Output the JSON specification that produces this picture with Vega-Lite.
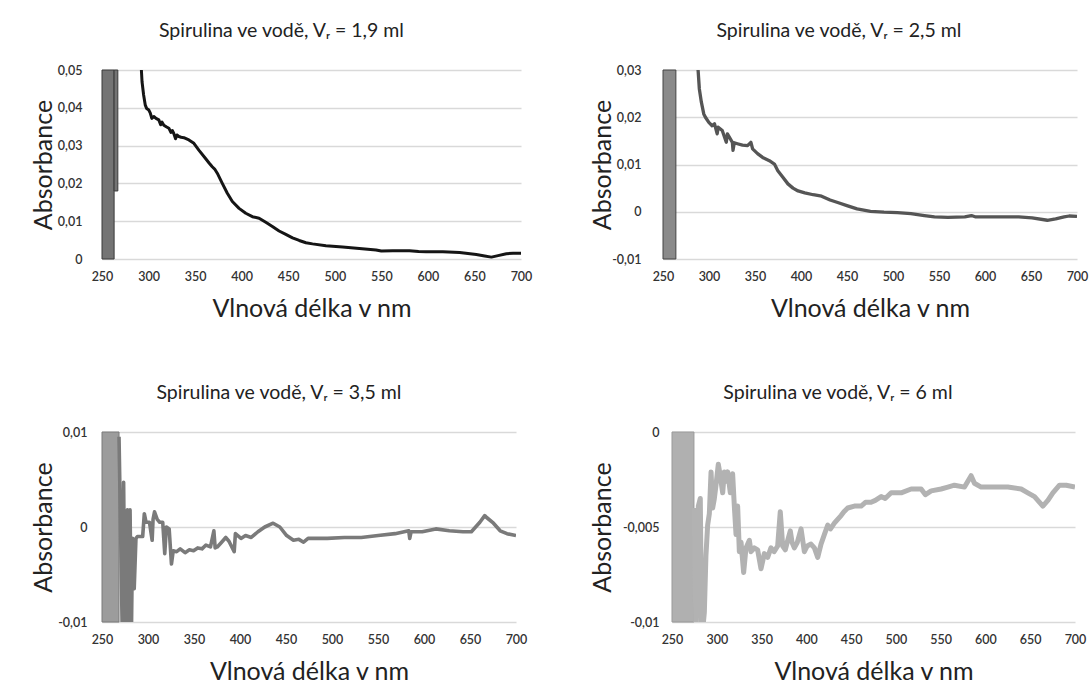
{
  "$schema": "https://vega.github.io/schema/vega-lite/v6.json",
  "background": "white",
  "padding": {"left": 30, "top": 20, "right": 5, "bottom": 5},
  "config": {
    "font": "Lato",
    "view": {"stroke": null},
    "title": {"fontSize": 19.5, "fontWeight": "normal", "color": "#222222", "offset": 23, "frame": "bounds", "anchor": "middle"},
    "axisX": {"grid": false, "domain": false, "ticks": false, "tickSize": 0, "tickCount": 12, "labelOverlap": false, "labelPadding": 11, "labelFontSize": 12.5, "labelFontWeight": 600, "labelColor": "#333333", "titleFontSize": 25, "titleFontWeight": "normal", "titleColor": "#222222", "titlePadding": 14, "labelFlush": false},
    "axisY": {"grid": true, "gridColor": "#d9d9d9", "gridWidth": 1.3, "domain": false, "ticks": false, "tickSize": 0, "tickCount": 10, "labelOverlap": false, "labelFontSize": 12.5, "labelFontWeight": 600, "labelColor": "#333333", "titleFontSize": 25, "titleFontWeight": "normal", "titleColor": "#222222", "titleBaseline": "middle", "labelFlush": false}
  },
  "datasets": {
    "b1": [{"nm": 250, "nm2": 263, "A": 0, "A2": 0.05}, {"nm": 263, "nm2": 267, "A": 0.018, "A2": 0.05}],
    "b2": [{"nm": 250, "nm2": 264, "A": -0.01, "A2": 0.03}],
    "b3": [{"nm": 250, "nm2": 268.5, "A": -0.01, "A2": 0.01}],
    "b4": [{"nm": 250, "nm2": 274.5, "A": -0.01, "A2": 0}],
    "p1": [
      {"nm": 291, "A": 0.052}, {"nm": 292.3, "A": 0.05}, {"nm": 293, "A": 0.0469}, {"nm": 294.7, "A": 0.0434}, {"nm": 296.5, "A": 0.0407}, {"nm": 298, "A": 0.0398}, {"nm": 300.3, "A": 0.0394}, {"nm": 302, "A": 0.0385}, {"nm": 303.5, "A": 0.0372}, {"nm": 305.6, "A": 0.0377}, {"nm": 308, "A": 0.0372}, {"nm": 311, "A": 0.0368}, {"nm": 313, "A": 0.0355}, {"nm": 314.5, "A": 0.0362}, {"nm": 316.4, "A": 0.0354}, {"nm": 319, "A": 0.035}, {"nm": 321.8, "A": 0.0346}, {"nm": 324, "A": 0.0335}, {"nm": 325.5, "A": 0.034}, {"nm": 327.1, "A": 0.0332}, {"nm": 329, "A": 0.0318}, {"nm": 330.5, "A": 0.0328}, {"nm": 332.5, "A": 0.0324}, {"nm": 335, "A": 0.0322}, {"nm": 337.9, "A": 0.0321}, {"nm": 343.3, "A": 0.0315}, {"nm": 348.7, "A": 0.0306}, {"nm": 354, "A": 0.0288}, {"nm": 361.2, "A": 0.0266}, {"nm": 365, "A": 0.0254}, {"nm": 368.4, "A": 0.0244}, {"nm": 371, "A": 0.0238}, {"nm": 373.8, "A": 0.0227}, {"nm": 379.2, "A": 0.02}, {"nm": 384.6, "A": 0.0174}, {"nm": 390, "A": 0.0152}, {"nm": 397.2, "A": 0.0134}, {"nm": 404.4, "A": 0.0121}, {"nm": 411.5, "A": 0.0112}, {"nm": 418.7, "A": 0.0108}, {"nm": 425.9, "A": 0.0097}, {"nm": 433, "A": 0.0086}, {"nm": 440.2, "A": 0.0074}, {"nm": 447.4, "A": 0.0065}, {"nm": 454.6, "A": 0.0056}, {"nm": 461.8, "A": 0.0049}, {"nm": 469, "A": 0.0043}, {"nm": 476.1, "A": 0.004}, {"nm": 490.5, "A": 0.0035}, {"nm": 508.4, "A": 0.0032}, {"nm": 526.4, "A": 0.0028}, {"nm": 544.3, "A": 0.0024}, {"nm": 550, "A": 0.0021}, {"nm": 562.3, "A": 0.0022}, {"nm": 580.2, "A": 0.0022}, {"nm": 590, "A": 0.002}, {"nm": 598.2, "A": 0.0019}, {"nm": 616.1, "A": 0.0019}, {"nm": 634.1, "A": 0.0017}, {"nm": 652, "A": 0.0012}, {"nm": 661, "A": 0.0008}, {"nm": 668.2, "A": 0.0005}, {"nm": 675.4, "A": 0.0009}, {"nm": 684.3, "A": 0.0014}, {"nm": 691.5, "A": 0.0015}, {"nm": 700, "A": 0.0015}
    ],
    "p2": [
      {"nm": 287, "A": 0.032}, {"nm": 288.1, "A": 0.0301}, {"nm": 289.5, "A": 0.026}, {"nm": 291.7, "A": 0.0232}, {"nm": 294.3, "A": 0.0207}, {"nm": 296.1, "A": 0.02}, {"nm": 299.8, "A": 0.0189}, {"nm": 303.4, "A": 0.0182}, {"nm": 306, "A": 0.0186}, {"nm": 308.9, "A": 0.0165}, {"nm": 310, "A": 0.0179}, {"nm": 314.4, "A": 0.0172}, {"nm": 318.8, "A": 0.0147}, {"nm": 320, "A": 0.0165}, {"nm": 325.4, "A": 0.0147}, {"nm": 326.1, "A": 0.013}, {"nm": 327.5, "A": 0.0146}, {"nm": 330.9, "A": 0.0144}, {"nm": 336.4, "A": 0.0141}, {"nm": 341.9, "A": 0.014}, {"nm": 345.5, "A": 0.0147}, {"nm": 347.4, "A": 0.0133}, {"nm": 352.8, "A": 0.0123}, {"nm": 358.3, "A": 0.0115}, {"nm": 365.6, "A": 0.0108}, {"nm": 371.1, "A": 0.0101}, {"nm": 374.8, "A": 0.0087}, {"nm": 380.3, "A": 0.0073}, {"nm": 385.8, "A": 0.0059}, {"nm": 391.3, "A": 0.005}, {"nm": 396.8, "A": 0.0044}, {"nm": 404.1, "A": 0.004}, {"nm": 413.3, "A": 0.0036}, {"nm": 422.4, "A": 0.0033}, {"nm": 431.6, "A": 0.0025}, {"nm": 440.7, "A": 0.0019}, {"nm": 449.9, "A": 0.0013}, {"nm": 460.9, "A": 0.0006}, {"nm": 475.5, "A": 0.0001}, {"nm": 490.2, "A": -0.0001}, {"nm": 504.8, "A": -0.0002}, {"nm": 519.5, "A": -0.0004}, {"nm": 534.1, "A": -0.0008}, {"nm": 545.1, "A": -0.0011}, {"nm": 559.7, "A": -0.0012}, {"nm": 578, "A": -0.0011}, {"nm": 585.3, "A": -0.0008}, {"nm": 590, "A": -0.0011}, {"nm": 600, "A": -0.0011}, {"nm": 618.3, "A": -0.0011}, {"nm": 636.6, "A": -0.0011}, {"nm": 651.2, "A": -0.0013}, {"nm": 667.7, "A": -0.0018}, {"nm": 676.8, "A": -0.0015}, {"nm": 686, "A": -0.0011}, {"nm": 691.5, "A": -0.0009}, {"nm": 700, "A": -0.001}
    ],
    "p3": [
      {"nm": 268.5, "A": 0.0095}, {"nm": 270.5, "A": -0.002}, {"nm": 272, "A": -0.011}, {"nm": 273.5, "A": 0.0047}, {"nm": 275, "A": -0.011}, {"nm": 275.8, "A": -0.0019}, {"nm": 277.6, "A": 0.0018}, {"nm": 279, "A": -0.011}, {"nm": 280.5, "A": 0.0018}, {"nm": 282, "A": -0.011}, {"nm": 283.2, "A": -0.0012}, {"nm": 285, "A": -0.0065}, {"nm": 286.9, "A": -0.0012}, {"nm": 288.5, "A": -0.001}, {"nm": 290.5, "A": -0.001}, {"nm": 294.2, "A": -0.001}, {"nm": 296, "A": 0.0014}, {"nm": 297.9, "A": 0.0005}, {"nm": 301.6, "A": 0.0005}, {"nm": 304.5, "A": -0.0014}, {"nm": 305.5, "A": 0.0008}, {"nm": 307.1, "A": 0.0016}, {"nm": 310, "A": 0.0008}, {"nm": 312.7, "A": 0.0005}, {"nm": 316, "A": 0.0005}, {"nm": 318.2, "A": -0.0028}, {"nm": 320, "A": 0}, {"nm": 323, "A": -0.0002}, {"nm": 325.5, "A": -0.0039}, {"nm": 327.4, "A": -0.0025}, {"nm": 331.1, "A": -0.0026}, {"nm": 335, "A": -0.0023}, {"nm": 340.3, "A": -0.0027}, {"nm": 345, "A": -0.0024}, {"nm": 349.5, "A": -0.0025}, {"nm": 354, "A": -0.0022}, {"nm": 358.7, "A": -0.0023}, {"nm": 363, "A": -0.0019}, {"nm": 367.9, "A": -0.0021}, {"nm": 371.6, "A": -0.0004}, {"nm": 373, "A": -0.0022}, {"nm": 375.3, "A": -0.0021}, {"nm": 380, "A": -0.0016}, {"nm": 384.5, "A": -0.0011}, {"nm": 388, "A": -0.0015}, {"nm": 393.7, "A": -0.0026}, {"nm": 395, "A": -0.0007}, {"nm": 401.1, "A": -0.0012}, {"nm": 406, "A": -0.0009}, {"nm": 412.2, "A": -0.0011}, {"nm": 419.5, "A": -0.0005}, {"nm": 426.9, "A": 0}, {"nm": 436, "A": 0.0004}, {"nm": 443.3, "A": 0}, {"nm": 450.7, "A": -0.0009}, {"nm": 458.1, "A": -0.0014}, {"nm": 464, "A": -0.0013}, {"nm": 469.1, "A": -0.0016}, {"nm": 474, "A": -0.0012}, {"nm": 480.2, "A": -0.0012}, {"nm": 488, "A": -0.0012}, {"nm": 494.9, "A": -0.0012}, {"nm": 513.4, "A": -0.0011}, {"nm": 531.8, "A": -0.0011}, {"nm": 550.2, "A": -0.0009}, {"nm": 568.6, "A": -0.0007}, {"nm": 583.4, "A": -0.0004}, {"nm": 584.5, "A": -0.0012}, {"nm": 586, "A": -0.0005}, {"nm": 598.1, "A": -0.0005}, {"nm": 612.8, "A": -0.0002}, {"nm": 627.6, "A": -0.0004}, {"nm": 642.3, "A": -0.0005}, {"nm": 651.5, "A": -0.0005}, {"nm": 660.7, "A": 0.0005}, {"nm": 666, "A": 0.0012}, {"nm": 668.1, "A": 0.001}, {"nm": 675.5, "A": 0.0004}, {"nm": 682.8, "A": -0.0004}, {"nm": 690.2, "A": -0.0007}, {"nm": 700, "A": -0.0009}
    ],
    "p4": [
      {"nm": 274.9, "A": -0.004}, {"nm": 276.8, "A": -0.011}, {"nm": 279.4, "A": -0.0039}, {"nm": 281.6, "A": -0.0035}, {"nm": 283.1, "A": -0.011}, {"nm": 286.1, "A": -0.0095}, {"nm": 287.9, "A": -0.0065}, {"nm": 289.8, "A": -0.0049}, {"nm": 291.7, "A": -0.0043}, {"nm": 293.6, "A": -0.0021}, {"nm": 295.4, "A": -0.004}, {"nm": 297.3, "A": -0.0035}, {"nm": 299.1, "A": -0.0028}, {"nm": 301.7, "A": -0.0017}, {"nm": 303.9, "A": -0.0023}, {"nm": 306.6, "A": -0.0032}, {"nm": 308.4, "A": -0.0021}, {"nm": 310.3, "A": -0.0026}, {"nm": 312.2, "A": -0.0021}, {"nm": 315.1, "A": -0.0032}, {"nm": 317.7, "A": -0.0022}, {"nm": 319.6, "A": -0.0039}, {"nm": 321.5, "A": -0.0054}, {"nm": 323.3, "A": -0.0039}, {"nm": 325.2, "A": -0.0063}, {"nm": 327.1, "A": -0.0058}, {"nm": 330, "A": -0.0074}, {"nm": 332.6, "A": -0.0061}, {"nm": 336.4, "A": -0.0057}, {"nm": 338.2, "A": -0.0063}, {"nm": 341.9, "A": -0.0061}, {"nm": 345.6, "A": -0.0062}, {"nm": 349.4, "A": -0.0072}, {"nm": 353.1, "A": -0.0064}, {"nm": 356.8, "A": -0.0066}, {"nm": 360.5, "A": -0.0061}, {"nm": 364, "A": -0.0063}, {"nm": 368, "A": -0.006}, {"nm": 370.9, "A": -0.0042}, {"nm": 373.6, "A": -0.006}, {"nm": 376.5, "A": -0.0062}, {"nm": 379.2, "A": -0.0057}, {"nm": 382.1, "A": -0.0052}, {"nm": 384, "A": -0.0058}, {"nm": 386.6, "A": -0.0061}, {"nm": 390, "A": -0.0058}, {"nm": 394.1, "A": -0.0051}, {"nm": 397.8, "A": -0.0063}, {"nm": 401, "A": -0.006}, {"nm": 405.2, "A": -0.0059}, {"nm": 409, "A": -0.0061}, {"nm": 412.7, "A": -0.0066}, {"nm": 416.4, "A": -0.0059}, {"nm": 420.1, "A": -0.0054}, {"nm": 423.9, "A": -0.0049}, {"nm": 427, "A": -0.0051}, {"nm": 431.3, "A": -0.0048}, {"nm": 435, "A": -0.0046}, {"nm": 438.8, "A": -0.0044}, {"nm": 442, "A": -0.0042}, {"nm": 446.2, "A": -0.004}, {"nm": 453.7, "A": -0.0039}, {"nm": 461.2, "A": -0.0039}, {"nm": 466, "A": -0.0037}, {"nm": 472.3, "A": -0.0037}, {"nm": 477, "A": -0.0036}, {"nm": 483.5, "A": -0.0034}, {"nm": 488, "A": -0.0035}, {"nm": 494.7, "A": -0.0032}, {"nm": 505.9, "A": -0.0032}, {"nm": 517, "A": -0.003}, {"nm": 528.2, "A": -0.003}, {"nm": 533, "A": -0.0033}, {"nm": 539.4, "A": -0.0031}, {"nm": 550.5, "A": -0.003}, {"nm": 558, "A": -0.0029}, {"nm": 565.4, "A": -0.0028}, {"nm": 576.6, "A": -0.0029}, {"nm": 584, "A": -0.0023}, {"nm": 587.7, "A": -0.0027}, {"nm": 595.2, "A": -0.0029}, {"nm": 610.1, "A": -0.0029}, {"nm": 625, "A": -0.0029}, {"nm": 639.9, "A": -0.003}, {"nm": 647.3, "A": -0.0032}, {"nm": 654.8, "A": -0.0034}, {"nm": 664.1, "A": -0.0039}, {"nm": 669.7, "A": -0.0036}, {"nm": 675.3, "A": -0.0032}, {"nm": 682.7, "A": -0.0028}, {"nm": 690.2, "A": -0.0028}, {"nm": 700, "A": -0.0029}
    ]
  },
  "bounds": "flush",
  "spacing": 362,
  "vconcat": [
    {
      "bounds": "flush",
      "spacing": 142,
      "hconcat": [
        {
          "width": 419, "height": 189,
          "title": "Spirulina ve vodě, Vᵣ = 1,9 ml",
          "layer": [
            {
              "data": {"name": "b1"},
              "mark": {"type": "rect", "color": "#747474", "stroke": "#3a3a3a", "strokeWidth": 1},
              "encoding": {
                "x": {"field": "nm", "type": "quantitative", "scale": {"domain": [250, 700], "nice": false, "zero": false}, "axis": {"values": [250, 300, 350, 400, 450, 500, 550, 600, 650, 700], "tickCount": 12, "title": "Vlnová délka v nm", "labelOverlap": false}},
                "x2": {"field": "nm2"},
                "y": {"field": "A", "type": "quantitative", "scale": {"domain": [0, 0.05], "nice": false, "zero": false}, "axis": {"values": [0, 0.01, 0.02, 0.03, 0.04, 0.05], "tickCount": 10, "labelExpr": "replace(replace(format(datum.value, '~g'), '.', ','), '−', '-')", "labelOverlap": false, "labelPadding": 20, "titleX": -59, "title": "Absorbance"}},
                "y2": {"field": "A2"}
              }
            },
            {
              "data": {"name": "p1"},
              "mark": {"type": "line", "color": "#151515", "strokeWidth": 3, "clip": true, "strokeJoin": "round"},
              "encoding": {
                "x": {"field": "nm", "type": "quantitative", "scale": {"domain": [250, 700], "nice": false, "zero": false}},
                "y": {"field": "A", "type": "quantitative", "scale": {"domain": [0, 0.05], "nice": false, "zero": false}}
              }
            }
          ]
        },
        {
          "width": 414, "height": 189,
          "title": "Spirulina ve vodě, Vᵣ = 2,5 ml",
          "layer": [
            {
              "data": {"name": "b2"},
              "mark": {"type": "rect", "color": "#8a8a8a", "stroke": "#444444", "strokeWidth": 1},
              "encoding": {
                "x": {"field": "nm", "type": "quantitative", "scale": {"domain": [250, 700], "nice": false, "zero": false}, "axis": {"values": [250, 300, 350, 400, 450, 500, 550, 600, 650, 700], "tickCount": 12, "title": "Vlnová délka v nm", "labelOverlap": false}},
                "x2": {"field": "nm2"},
                "y": {"field": "A", "type": "quantitative", "scale": {"domain": [-0.01, 0.03], "nice": false, "zero": false}, "axis": {"values": [-0.01, 0, 0.01, 0.02, 0.03], "tickCount": 10, "labelExpr": "replace(replace(format(datum.value, '~g'), '.', ','), '−', '-')", "labelOverlap": false, "labelPadding": 22, "titleX": -61, "title": "Absorbance"}},
                "y2": {"field": "A2"}
              }
            },
            {
              "data": {"name": "p2"},
              "mark": {"type": "line", "color": "#555555", "strokeWidth": 3.3, "clip": true, "strokeJoin": "round"},
              "encoding": {
                "x": {"field": "nm", "type": "quantitative", "scale": {"domain": [250, 700], "nice": false, "zero": false}},
                "y": {"field": "A", "type": "quantitative", "scale": {"domain": [-0.01, 0.03], "nice": false, "zero": false}}
              }
            }
          ]
        }
      ]
    },
    {
      "bounds": "flush",
      "spacing": 156,
      "hconcat": [
        {
          "width": 414, "height": 190,
          "title": "Spirulina ve vodě, Vᵣ = 3,5 ml",
          "layer": [
            {
              "data": {"name": "b3"},
              "mark": {"type": "rect", "color": "#9c9c9c", "stroke": "#7a7a7a", "strokeWidth": 1},
              "encoding": {
                "x": {"field": "nm", "type": "quantitative", "scale": {"domain": [250, 700], "nice": false, "zero": false}, "axis": {"values": [250, 300, 350, 400, 450, 500, 550, 600, 650, 700], "tickCount": 12, "title": "Vlnová délka v nm", "labelOverlap": false}},
                "x2": {"field": "nm2"},
                "y": {"field": "A", "type": "quantitative", "scale": {"domain": [-0.01, 0.01], "nice": false, "zero": false}, "axis": {"values": [-0.01, 0, 0.01], "tickCount": 10, "labelExpr": "replace(replace(format(datum.value, '~g'), '.', ','), '−', '-')", "labelOverlap": false, "labelPadding": 15, "titleX": -59, "title": "Absorbance"}},
                "y2": {"field": "A2"}
              }
            },
            {
              "data": {"name": "p3"},
              "mark": {"type": "line", "color": "#7a7a7a", "strokeWidth": 3.6, "clip": true, "strokeJoin": "round"},
              "encoding": {
                "x": {"field": "nm", "type": "quantitative", "scale": {"domain": [250, 700], "nice": false, "zero": false}},
                "y": {"field": "A", "type": "quantitative", "scale": {"domain": [-0.01, 0.01], "nice": false, "zero": false}}
              }
            }
          ]
        },
        {
          "width": 403, "height": 190,
          "title": "Spirulina ve vodě, Vᵣ = 6 ml",
          "layer": [
            {
              "data": {"name": "b4"},
              "mark": {"type": "rect", "color": "#b0b0b0", "stroke": "#999999", "strokeWidth": 1},
              "encoding": {
                "x": {"field": "nm", "type": "quantitative", "scale": {"domain": [250, 700], "nice": false, "zero": false}, "axis": {"values": [250, 300, 350, 400, 450, 500, 550, 600, 650, 700], "tickCount": 12, "title": "Vlnová délka v nm", "labelOverlap": false}},
                "x2": {"field": "nm2"},
                "y": {"field": "A", "type": "quantitative", "scale": {"domain": [-0.01, 0], "nice": false, "zero": false}, "axis": {"values": [-0.01, -0.005, 0], "tickCount": 10, "labelExpr": "replace(replace(format(datum.value, '~g'), '.', ','), '−', '-')", "labelOverlap": false, "labelPadding": 13, "titleX": -70, "title": "Absorbance"}},
                "y2": {"field": "A2"}
              }
            },
            {
              "data": {"name": "p4"},
              "mark": {"type": "line", "color": "#b2b2b2", "strokeWidth": 5, "clip": true, "strokeJoin": "round"},
              "encoding": {
                "x": {"field": "nm", "type": "quantitative", "scale": {"domain": [250, 700], "nice": false, "zero": false}},
                "y": {"field": "A", "type": "quantitative", "scale": {"domain": [-0.01, 0], "nice": false, "zero": false}}
              }
            }
          ]
        }
      ]
    }
  ]
}
